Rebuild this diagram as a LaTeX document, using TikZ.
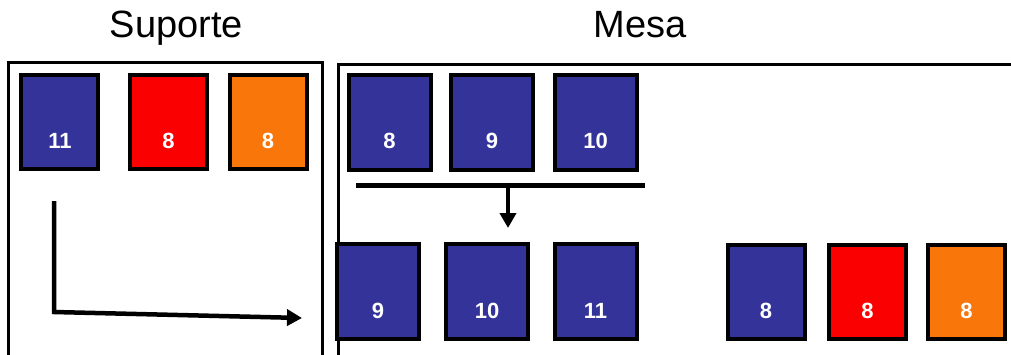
\documentclass[tikz,border=0pt]{standalone}
\usepackage{fontspec}
\setmainfont{Liberation Sans}
\usetikzlibrary{arrows.meta}
\definecolor{cardblue}{RGB}{51,51,153}
\definecolor{cardred}{RGB}{250,0,0}
\definecolor{cardorange}{RGB}{248,118,10}
\tikzset{
  card/.style={draw=black, line width=4pt, fill=#1, minimum width=77pt,
    minimum height=94pt, inner sep=0pt},
  wide/.style={minimum width=82pt, minimum height=95pt},
  num/.style={text=white, font=\fontsize{22}{22}\selectfont\bfseries},
  title/.style={font=\fontsize{38}{38}\selectfont, anchor=base},
  frame/.style={line width=3pt},
  flow/.style={line width=4.5pt, -{Triangle[length=15pt,width=16pt]}}
}
\begin{document}
\begin{tikzpicture}[x=1pt,y=-1pt]
\useasboundingbox (0,0) rectangle (1011,354);
\clip (0,0) rectangle (1011,354);

% headings
\node[title] (tsup) at (176.5,37) {Suporte};
\node[title] (tmesa) at (640,37) {Mesa};

% the two areas
\draw[frame] (8.5,380) |- (322,62) -- (322,380);
\draw[frame] (338.5,380) |- (1030,64.5);

% rack
\node[card=cardblue]   (s1) at (59.5,122) {};
\node[card=cardred]    (s2) at (168.5,122) {};
\node[card=cardorange] (s3) at (268,122) {};
\node[num] (s1n) at (60,141) {11};
\node[num] (s2n) at (168.5,141) {8};
\node[num] (s3n) at (268,141) {8};

% table, top row
\node[card=cardblue, wide] (m1) at (389.5,122) {};
\node[card=cardblue, wide] (m2) at (492,122) {};
\node[card=cardblue, wide] (m3) at (595.5,122) {};
\node[num] (m1n) at (389.5,141) {8};
\node[num] (m2n) at (492,141) {9};
\node[num] (m3n) at (595.5,141) {10};

% table, bottom row
\node[card=cardblue, wide]   (b1) at (378,291.5) {};
\node[card=cardblue, wide]   (b2) at (486.5,291.5) {};
\node[card=cardblue, wide]   (b3) at (595.5,291.5) {};
\node[card=cardblue]   (b4) at (766,292) {};
\node[card=cardred]    (b5) at (867.5,292) {};
\node[card=cardorange] (b6) at (966.5,292) {};
\node[num] (b1n) at (378,311) {9};
\node[num] (b2n) at (487,311) {10};
\node[num] (b3n) at (595.5,311) {11};
\node[num] (b4n) at (766,311) {8};
\node[num] (b5n) at (867.5,311) {8};
\node[num] (b6n) at (966.5,311) {8};

% split bar and downward move
\coordinate (barL) at (356,185.5);
\coordinate (barR) at (645,185.5);
\coordinate (barM) at (508,185.5);
\coordinate (barT) at (508,228);
\draw[line width=5pt] (barL) -- (barR);
\draw[flow] (barM) -- (barT);

% move from rack to table
\coordinate (rs) at (54,201);
\coordinate (rc) at (54,312);
\coordinate (rt) at (302,318);
\draw[flow] (rs) -- (rc) -- (rt);
\end{tikzpicture}
\end{document}
